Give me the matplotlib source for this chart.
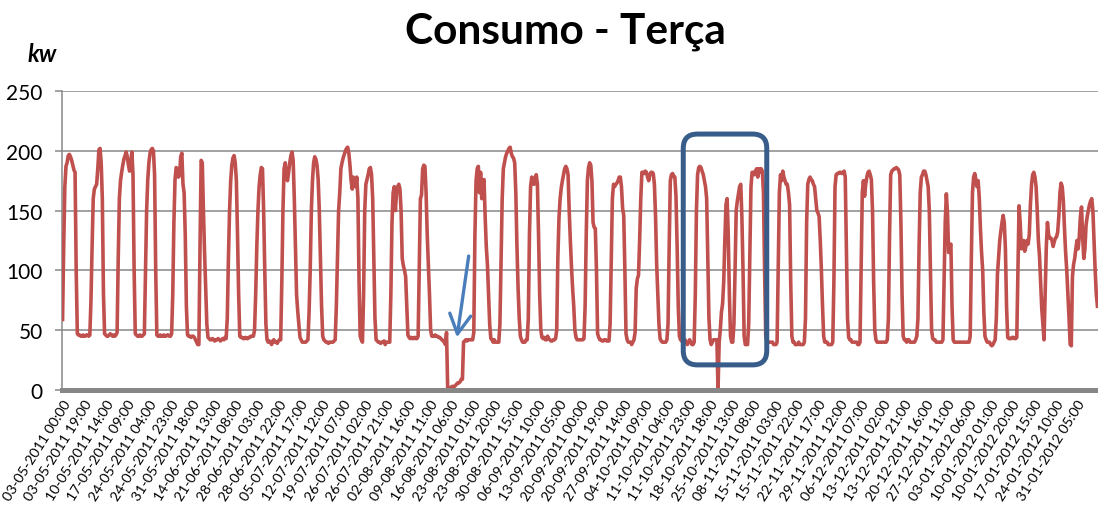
import matplotlib
matplotlib.use("Agg")
import matplotlib.pyplot as plt
import matplotlib.transforms as mtransforms
from matplotlib.patches import FancyBboxPatch
import numpy as np

plt.rcParams['font.family'] = ['Lato', 'DejaVu Sans']

# Tuesdays in the series (07-06-2011 and 01-11-2011 are absent)
tuesdays = ["03-05-2011", "10-05-2011", "17-05-2011", "24-05-2011", "31-05-2011",
            "14-06-2011", "21-06-2011", "28-06-2011",
            "05-07-2011", "12-07-2011", "19-07-2011", "26-07-2011",
            "02-08-2011", "09-08-2011", "16-08-2011", "23-08-2011", "30-08-2011",
            "06-09-2011", "13-09-2011", "20-09-2011", "27-09-2011",
            "04-10-2011", "11-10-2011", "18-10-2011", "25-10-2011",
            "08-11-2011", "15-11-2011", "22-11-2011", "29-11-2011",
            "06-12-2011", "13-12-2011", "20-12-2011", "27-12-2011",
            "03-01-2012", "10-01-2012", "17-01-2012", "24-01-2012", "31-01-2012"]

# hourly consumption (kW), 00:00 .. 23:00 for each Tuesday
kw_may = [
    [59, 120, 170, 187, 190, 196, 197, 195, 192, 188, 184, 182, 100, 47, 46, 46, 45, 45, 46, 45, 45, 46, 46, 45],
    [46, 75, 120, 160, 168, 170, 172, 185, 201, 202, 190, 160, 80, 47, 46, 45, 45, 46, 47, 46, 45, 46, 45, 46],
    [48, 110, 160, 175, 182, 188, 193, 196, 199, 195, 188, 183, 190, 199, 180, 100, 47, 46, 45, 45, 46, 45, 45, 46],
    [47, 100, 150, 176, 190, 198, 201, 202, 200, 180, 100, 46, 45, 45, 46, 45, 45, 46, 45, 45, 46, 46, 45, 45],
    [47, 80, 140, 176, 186, 185, 178, 180, 195, 198, 172, 165, 130, 70, 46, 45, 45, 44, 45, 45, 44, 42, 40, 38],
]
kw_jun = [
    [38, 120, 192, 190, 150, 115, 85, 55, 44, 43, 42, 42, 43, 42, 41, 42, 42, 43, 42, 41, 42, 43, 42, 44],
    [43, 60, 110, 150, 175, 188, 194, 196, 190, 175, 130, 80, 45, 44, 44, 43, 43, 44, 43, 43, 44, 44, 45, 45],
    [45, 50, 80, 120, 150, 170, 180, 186, 185, 150, 100, 55, 42, 40, 41, 40, 38, 41, 42, 40, 40, 39, 41, 42],
]
kw_jul = [
    [42, 90, 150, 185, 190, 180, 175, 182, 190, 196, 199, 192, 160, 120, 80, 66, 55, 44, 42, 40, 40, 40, 40, 41],
    [42, 65, 100, 150, 175, 190, 195, 193, 188, 176, 150, 110, 70, 45, 42, 41, 40, 40, 39, 40, 40, 40, 40, 41],
    [42, 70, 110, 150, 165, 185, 190, 194, 197, 200, 202, 203, 198, 188, 175, 168, 178, 172, 170, 178, 160, 90, 45, 42],
    [40, 80, 150, 172, 176, 180, 185, 186, 180, 160, 110, 60, 42, 41, 40, 40, 39, 40, 40, 41, 38, 40, 40, 40],
]
kw_aug = [
    [40, 80, 140, 165, 170, 150, 165, 170, 172, 168, 150, 110, 104, 100, 95, 70, 46, 44, 43, 44, 43, 43, 44, 43],
    [43, 45, 100, 160, 163, 185, 188, 187, 165, 130, 105, 80, 50, 45, 45, 45, 46, 45, 45, 44, 44, 43, 42, 41],
    [40, 38, 48, 2, 2, 2, 2, 3, 3, 3, 4, 5, 6, 6, 7, 9, 9, 40, 41, 42, 41, 42, 42, 42],
    [42, 42, 48, 130, 175, 185, 187, 165, 182, 160, 172, 176, 145, 120, 105, 80, 55, 43, 42, 40, 42, 40, 40, 40],
    [40, 55, 110, 160, 185, 190, 195, 198, 200, 202, 203, 198, 195, 194, 190, 165, 120, 85, 60, 45, 42, 40, 40, 40],
]
kw_sep = [
    [42, 42, 60, 130, 170, 178, 173, 172, 178, 180, 172, 130, 80, 50, 44, 43, 44, 42, 42, 45, 43, 42, 41, 41],
    [42, 42, 43, 50, 110, 144, 160, 169, 175, 180, 185, 187, 185, 180, 150, 125, 103, 85, 70, 50, 44, 42, 42, 42],
    [42, 42, 42, 43, 70, 130, 175, 186, 190, 188, 175, 140, 136, 135, 100, 47, 44, 42, 42, 41, 41, 42, 42, 41],
    [41, 41, 55, 110, 160, 172, 170, 172, 173, 175, 178, 178, 170, 152, 146, 100, 47, 42, 40, 40, 40, 38, 40, 42],
]
kw_oct = [
    [48, 85, 93, 96, 125, 160, 182, 182, 181, 183, 182, 178, 175, 180, 182, 182, 181, 172, 145, 105, 80, 55, 43, 41],
    [40, 40, 40, 40, 42, 55, 120, 175, 180, 181, 179, 178, 162, 120, 70, 45, 42, 41, 40, 40, 42, 40, 38, 40],
    [42, 40, 38, 38, 40, 80, 150, 180, 186, 187, 186, 183, 180, 175, 170, 160, 110, 60, 42, 38, 40, 42, 42, 42],
    [42, 0, 40, 50, 65, 72, 90, 125, 155, 160, 130, 80, 45, 40, 40, 55, 100, 150, 158, 164, 170, 172, 145, 100],
]
kw_nov = [
    [45, 38, 38, 38, 55, 110, 170, 182, 182, 180, 183, 185, 178, 185, 182, 185, 183, 165, 100, 45, 40, 40, 40, 40],
    [40, 40, 38, 38, 38, 40, 100, 165, 180, 175, 183, 178, 175, 172, 172, 165, 155, 90, 45, 40, 40, 38, 38, 38],
    [40, 38, 38, 38, 38, 40, 60, 140, 172, 176, 178, 176, 175, 172, 170, 160, 150, 148, 145, 125, 100, 70, 45, 40],
    [40, 40, 38, 38, 38, 38, 40, 90, 170, 180, 181, 181, 182, 182, 181, 182, 183, 178, 120, 60, 44, 42, 42, 40],
]
kw_dec = [
    [40, 40, 40, 40, 38, 38, 40, 100, 165, 175, 162, 172, 178, 182, 183, 180, 176, 150, 90, 50, 42, 40, 40, 40],
    [40, 40, 40, 40, 40, 40, 42, 60, 130, 180, 183, 184, 185, 185, 186, 185, 184, 180, 140, 80, 45, 42, 42, 40],
    [42, 42, 40, 40, 40, 40, 40, 42, 45, 60, 120, 165, 178, 180, 183, 183, 180, 175, 170, 150, 100, 50, 43, 42],
    [42, 40, 40, 40, 40, 40, 40, 42, 90, 140, 164, 148, 115, 120, 122, 70, 42, 40, 40, 40, 40, 40, 40, 40],
]
kw_jan = [
    [40, 40, 40, 40, 40, 40, 40, 45, 110, 165, 178, 181, 176, 170, 175, 160, 135, 115, 100, 65, 45, 42, 40, 40],
    [40, 38, 37, 38, 40, 42, 60, 97, 111, 125, 133, 140, 146, 140, 118, 70, 44, 43, 43, 43, 44, 44, 43, 43],
    [44, 100, 154, 140, 118, 120, 125, 116, 120, 125, 122, 130, 155, 172, 180, 182, 178, 170, 150, 125, 112, 90, 68, 55],
    [42, 80, 120, 140, 130, 127, 127, 125, 120, 124, 127, 128, 132, 145, 165, 173, 170, 158, 135, 115, 100, 80, 60, 38],
    [37, 95, 105, 110, 118, 125, 118, 128, 145, 153, 128, 110, 118, 138, 145, 150, 155, 158, 160, 150, 125, 100, 80, 70],
]

yticks = [0, 50, 100, 150, 200, 250]
label_step = 19

series = np.concatenate([np.ravel(m) for m in
                         (kw_may, kw_jun, kw_jul, kw_aug, kw_sep, kw_oct, kw_nov, kw_dec, kw_jan)])
n = len(series)
xpos = np.arange(n)
label_pos = np.arange(0, n, label_step)
labels = [f"{tuesdays[i // 24]} {i % 24:02d}:00" for i in label_pos]

W, H = 1098, 510
fig = plt.figure(figsize=(W / 100, H / 100), dpi=100)
ax = fig.add_axes([62 / W, 119 / H, 1036 / W, 299 / H])

grid_c = '#878787'
ax.plot(xpos, series, color='#C0504D', lw=2.6, solid_joinstyle='round', zorder=3)
ax.set_xlim(-0.5, n - 0.5)
ax.set_ylim(0, 250)
ax.set_yticks(yticks)
ax.yaxis.grid(True, color=grid_c, lw=1.1)
ax.set_axisbelow(True)
for s in ('top', 'right'):
    ax.spines[s].set_visible(False)
ax.spines['left'].set_color(grid_c)
ax.spines['left'].set_linewidth(1.1)
ax.spines['bottom'].set_color(grid_c)
ax.spines['bottom'].set_linewidth(3.6)
ax.spines['bottom'].set_zorder(4)
ax.tick_params(axis='y', direction='out', length=5, width=1.1, color=grid_c,
               labelsize=15, pad=9)
ax.set_xticks(label_pos)
ax.set_xticklabels(labels, rotation=58, ha='right', va='center',
                   rotation_mode='anchor', fontsize=10.2)
ax.tick_params(axis='x', length=0, pad=8)
shift = mtransforms.ScaledTranslation(5 / 100, 0, fig.dpi_scale_trans)
for lab in ax.get_xticklabels():
    lab.set_transform(lab.get_transform() + shift)

fig.text(565 / W, 1 - 32 / H, "Consumo - Terça", ha='center', va='center',
         fontsize=30.5, fontweight='bold')
fig.text(42 / W, 1 - 54 / H, "kw", ha='center', va='center', fontsize=17,
         fontweight='bold', style='italic')

# arrow pointing at the outage on 16-08-2011
d_out = tuesdays.index("16-08-2011") * 24
ax.annotate("", xy=(d_out + 11.2, 44), xytext=(d_out + 21.5, 112),
            arrowprops=dict(arrowstyle="->,head_length=0.7,head_width=0.38",
                            color='#4A7EBB', lw=2.4, mutation_scale=20,
                            shrinkA=0, shrinkB=0), annotation_clip=False)

# rounded box around 11-10 .. 08-11
b0 = tuesdays.index("11-10-2011") * 24 + 18.4
b1 = tuesdays.index("08-11-2011") * 24 + 19.9
box = FancyBboxPatch((b0, 21), b1 - b0, 214 - 21,
                     boxstyle="round,pad=0,rounding_size=12.5",
                     mutation_aspect=0.95, fill=False, ec='#385D8A', lw=3.6,
                     zorder=5, clip_on=False)
ax.add_patch(box)

fig.savefig("out.png", dpi=100)
